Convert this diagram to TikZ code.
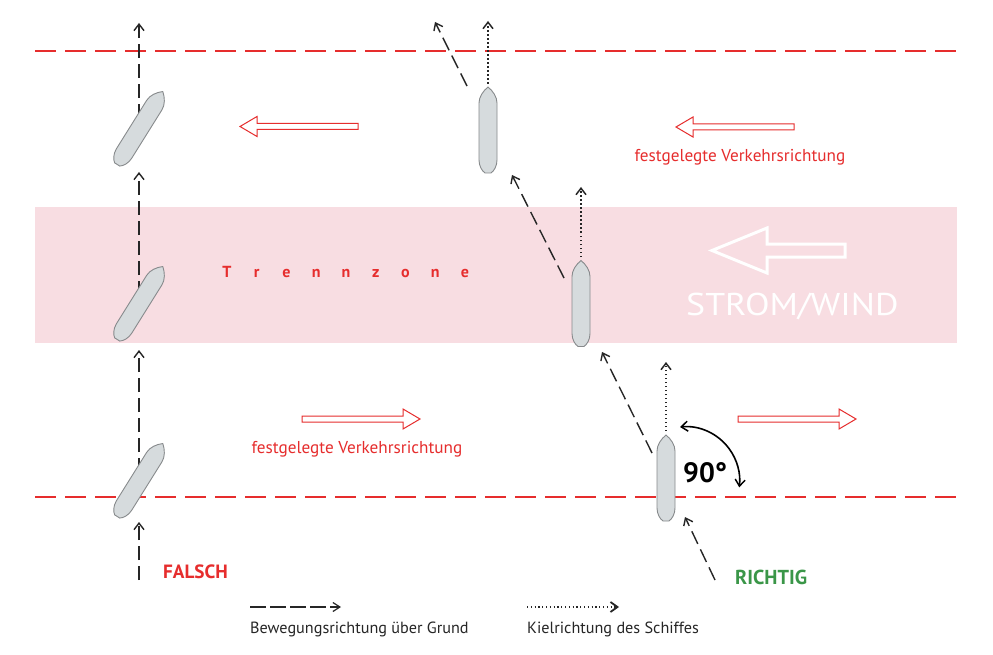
\documentclass[tikz,border=0pt]{standalone}
\usepackage{fontspec}
\setmainfont{PT Sans}
\usetikzlibrary{arrows.meta}
\definecolor{lred}{RGB}{230,45,45}
\definecolor{zonepink}{RGB}{248,221,226}
\definecolor{shipfill}{RGB}{214,219,221}
\definecolor{shipline}{RGB}{135,138,140}
\definecolor{okgreen}{RGB}{58,150,72}
\begin{document}
\begin{tikzpicture}[x=1pt,y=-1pt,
  lane/.style={draw=lred, line width=1.3pt, dash pattern=on 21pt off 9pt},
  track/.style={draw=black!85, line width=1.4pt, dash pattern=on 14pt off 6pt,
    -{Straight Barb[length=6.5pt,width=10pt,line width=1.4pt]}},
  keel/.style={draw=black!85, line width=1.8pt, dash pattern=on 1.5pt off 2.5pt,
    -{Straight Barb[length=6.5pt,width=10pt,line width=1.5pt]}},
  shipstyle/.style={fill=shipfill, draw=shipline, line width=0.9pt},
  flow/.style={draw=lred, line width=1pt, fill=white},
  lbl/.style={text=lred, font=\fontsize{17.2}{20}\selectfont, inner sep=0, anchor=base},
  legendtxt/.style={text=black!85, font=\fontsize{16.2}{19}\selectfont, inner sep=0, anchor=base west},
  verdict/.style={inner sep=0, anchor=base west},
  pics/ship/.style={code={
    \draw[shipstyle] (0,-43) .. controls (5,-39) and (9,-33) .. (9,-27) -- (9,30)
      .. controls (9,36) and (6,41) .. (3,43) -- (-3,43)
      .. controls (-6,41) and (-9,36) .. (-9,30) -- (-9,-27)
      .. controls (-9,-33) and (-5,-39) .. (0,-43) -- cycle;}},
  pics/flowarrow/.style={code={
    \draw[flow] (0,-3) -- (101,-3) -- (101,-10) -- (118,0) -- (101,10) -- (101,3) -- (0,3) -- cycle;}}
]
\useasboundingbox (0,0) rectangle (993,655);
\fill[white] (0,0) rectangle (993,655);
% separation zone
\fill[zonepink] (35,207) rectangle (957,343);
% lane borders
\draw[lane] (35,51) -- (958,51);
\draw[lane] (35,497) -- (958,497);

% traffic direction arrows
\pic[rotate=180] at (358,126.5) {flowarrow};
\pic[rotate=180] at (794,127) {flowarrow};
\pic at (302,419) {flowarrow};
\pic at (738,419) {flowarrow};

% current / wind arrow
\draw[white, line width=3pt, line join=miter] (712,250.5) -- (767,228) -- (767,244) -- (845,244)
  -- (845,257) -- (767,257) -- (767,273) -- cycle;

% coordinates: FALSCH ships
\coordinate (f1) at (140,480);
\coordinate (f2) at (140,303);
\coordinate (f3) at (140,128);
\coordinate (fstart) at (139,580);
\coordinate (fe1) at (139,522);
\coordinate (fs2) at (139,472);
\coordinate (fe2) at (139,350);
\coordinate (fs3) at (139,295);
\coordinate (fe3) at (139,172);
\coordinate (fs4) at (139,118);
\coordinate (fe4) at (139,23);
\draw[track] (fstart) -- (fe1);
\draw[track] (fs2) -- (fe2);
\draw[track] (fs3) -- (fe3);
\draw[track] (fs4) -- (fe4);

% coordinates: RICHTIG ships
\coordinate (rA) at (488,130);
\coordinate (rB) at (581,303.5);
\coordinate (rC) at (666,478);
\coordinate (kA1) at (488,84);  \coordinate (kA2) at (488,21);
\coordinate (kB1) at (581,257); \coordinate (kB2) at (581,187);
\coordinate (kC1) at (666,431); \coordinate (kC2) at (666,362);
\draw[keel] (kA1) -- (kA2);
\draw[keel] (kB1) -- (kB2);
\draw[keel] (kC1) -- (kC2);
\coordinate (g0) at (715,580); \coordinate (g0e) at (685,517);
\coordinate (gC) at (652,453); \coordinate (gCe) at (602,352);
\coordinate (gB) at (564,278); \coordinate (gBe) at (512,175);
\coordinate (gA) at (467,86);  \coordinate (gAe) at (435,22);
\draw[track] (g0) -- (g0e);
\draw[track] (gC) -- (gCe);
\draw[track] (gB) -- (gBe);
\draw[track] (gA) -- (gAe);

% ships
\pic[rotate=-32] at (f1) {ship};
\pic[rotate=-32] at (f2) {ship};
\pic[rotate=-32] at (f3) {ship};
\pic at (rA) {ship};
\pic at (rB) {ship};
\pic at (rC) {ship};

% 90 degree arc
\coordinate (arcS) at (680,427);
\draw[black, line width=1.6pt, {Straight Barb[length=6.5pt,width=10pt,line width=1.5pt]}-{Straight Barb[length=6.5pt,width=10pt,line width=1.5pt]}]
  (arcS) arc[start angle=-96, end angle=7, radius=54];
\node[font=\bfseries\fontsize{28}{30}\selectfont, inner sep=0, anchor=base west] (deg) at (683,482) {90°};

% texts
\node[lbl] (dirR) at (740,162) {festgelegte Verkehrsrichtung};
\node[lbl] (dirL) at (357,453) {festgelegte Verkehrsrichtung};
\node[text=lred, font=\bfseries\fontsize{16}{18}\selectfont, inner sep=0, anchor=base] (zone) at (346,277)
  {\makebox[29.75pt]{T}\makebox[29.75pt]{r}\makebox[29.75pt]{e}\makebox[29.75pt]{n}\makebox[29.75pt]{n}\makebox[29.75pt]{z}\makebox[29.75pt]{o}\makebox[29.75pt]{n}\makebox[29.75pt]{e}};
\node[text=white, font=\fontsize{31.5}{34}\selectfont, inner sep=0, anchor=base west] (wind) at (686,315) {\scalebox{1.14}[1]{STROM/WIND}};
\node[verdict, text=lred, font=\bfseries\fontsize{19.2}{21}\selectfont] (falsch) at (163,578) {FALSCH};
\node[verdict, text=okgreen, font=\bfseries\fontsize{20.2}{22}\selectfont] (richtig) at (735,584) {RICHTIG};

% legend
\coordinate (lg1) at (250,607); \coordinate (lg2) at (341,607);
\coordinate (lk1) at (527,607); \coordinate (lk2) at (619,607);
\draw[black!85, line width=1.2pt, dash pattern=on 16pt off 4pt,
  -{Straight Barb[length=7pt,width=9pt,line width=1.2pt]}] (lg1) -- (lg2);
\draw[black!85, line width=1.2pt, dash pattern=on 1.2pt off 2.6pt,
  -{Straight Barb[length=7pt,width=10pt,line width=1.8pt]}] (lk1) -- (lk2);
\node[legendtxt] (lgt) at (250,633) {Bewegungsrichtung über Grund};
\node[legendtxt] (lkt) at (527,633) {Kielrichtung des Schiffes};
\end{tikzpicture}
\end{document}
